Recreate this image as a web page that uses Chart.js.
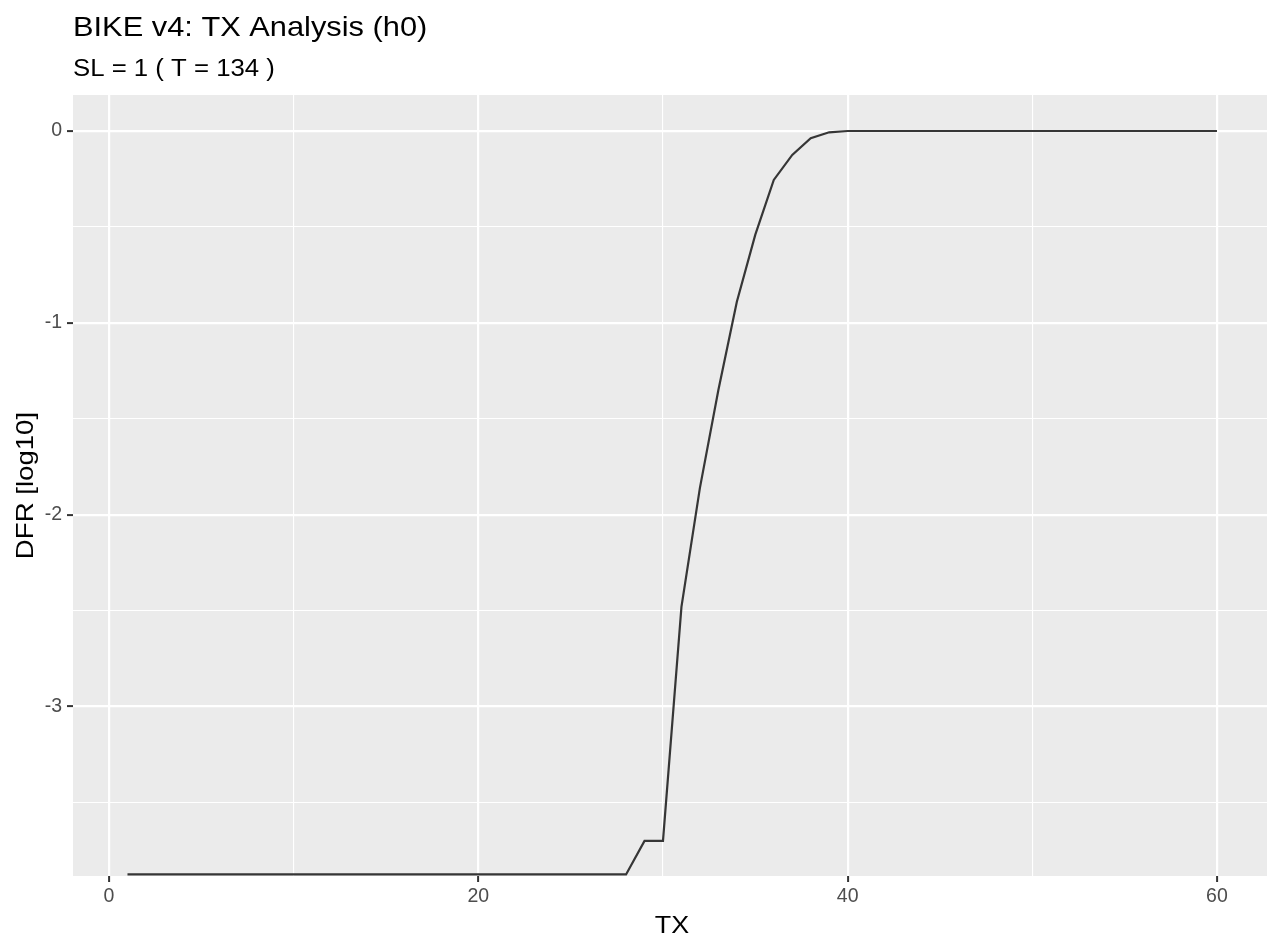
<!DOCTYPE html>
<html>
<head>
<meta charset="utf-8">
<script src="https://cdn.jsdelivr.net/npm/chart.js@4.4.0/dist/chart.umd.min.js"></script>
<style>
  html, body { margin: 0; padding: 0; background: #fff; }
  #wrap { width: 1267px; height: 937px; }
</style>
</head>
<body>
<div id="wrap"><canvas id="dfrChart"></canvas></div>
<script>
// TX values (x axis)
const txValues = [
    1, 2, 3, 4, 5, 6, 7, 8, 9, 10,
    11, 12, 13, 14, 15, 16, 17, 18, 19, 20,
    21, 22, 23, 24, 25, 26, 27, 28, 29, 30,
    31, 32, 33, 34, 35, 36, 37, 38, 39, 40,
    41, 42, 43, 44, 45, 46, 47, 48, 49, 50,
    51, 52, 53, 54, 55, 56, 57, 58, 59, 60
];
// DFR in log10
const dfrLog10 = [
    -3.875, -3.875, -3.875, -3.875, -3.875, -3.875, -3.875, -3.875, -3.875, -3.875,
    -3.875, -3.875, -3.875, -3.875, -3.875, -3.875, -3.875, -3.875, -3.875, -3.875,
    -3.875, -3.875, -3.875, -3.875, -3.875, -3.875, -3.875, -3.875, -3.70, -3.70,
    -2.48, -1.86, -1.35, -0.89, -0.54, -0.255, -0.125, -0.038, -0.007, 0,
    0, 0, 0, 0, 0, 0, 0, 0, 0, 0,
    0, 0, 0, 0, 0, 0, 0, 0, 0, 0
];
const xTicks = [0, 10, 20, 30, 40, 50, 60];
const xLabels = [0, 20, 40, 60];
const yTicks = [-3.5, -3, -2.5, -2, -1.5, -1, -0.5, 0];
const yLabels = [-3, -2, -1, 0];

const titleText = 'BIKE v4: TX Analysis (h0)';
const subtitleText = 'SL = 1 ( T = 134 )';
const xTitle = 'TX';
const yTitle = 'DFR [log10]';

const FONT = '"Liberation Sans", Arial, sans-serif';

// grey panel behind the plot, ggplot style
const panelBg = {
    id: 'panelBg',
    beforeDraw(chart) {
        const { ctx, chartArea: a } = chart;
        ctx.save();
        ctx.fillStyle = '#EBEBEB';
        ctx.fillRect(a.left, a.top, a.right - a.left, a.bottom - a.top);
        ctx.restore();
    }
};

// text drawn a bit wider, the original font runs wider than Liberation Sans
function wideText(ctx, text, x, y, stretch) {
    ctx.save();
    ctx.translate(x, y);
    ctx.scale(stretch, 1);
    ctx.fillText(text, 0, 0);
    ctx.restore();
}

// titles and axis titles
const texts = {
    id: 'texts',
    afterDraw(chart) {
        const { ctx, chartArea: a } = chart;
        ctx.save();
        ctx.fillStyle = '#000';
        ctx.textAlign = 'left';
        ctx.textBaseline = 'alphabetic';
        ctx.font = '28px ' + FONT;
        wideText(ctx, titleText, a.left, 36, 1.10);
        ctx.font = '23px ' + FONT;
        wideText(ctx, subtitleText, a.left, 76, 1.12);

        ctx.textAlign = 'center';
        ctx.font = '24px ' + FONT;
        wideText(ctx, xTitle, (a.left + a.right) / 2 + 2, 933, 1.12);

        ctx.translate(33, (a.top + a.bottom) / 2);
        ctx.rotate(-Math.PI / 2);
        wideText(ctx, yTitle, 0, 0, 1.15);
        ctx.restore();
    }
};

const isIn = (arr, v) => arr.some(t => Math.abs(t - v) < 1e-9);

const ctx = document.getElementById('dfrChart').getContext('2d');
new Chart(ctx, {
    type: 'line',
    data: {
        labels: txValues,
        datasets: [{
            data: txValues.map((x, i) => ({ x: x, y: dfrLog10[i] })),
            borderColor: '#363636',
            borderWidth: 2.2,
            pointRadius: 0,
            tension: 0,
            fill: false
        }]
    },
    options: {
        responsive: true,
        maintainAspectRatio: false,
        animation: false,
        layout: { padding: { top: 95, right: 0, left: 0, bottom: 0 } },
        plugins: {
            legend: { display: false },
            tooltip: { enabled: false }
        },
        scales: {
            x: {
                type: 'linear',
                min: -1.95,
                max: 62.71,
                afterFit(scale) { scale.height = 61; },
                afterBuildTicks(scale) { scale.ticks = xTicks.map(v => ({ value: v })); },
                border: { display: false },
                grid: {
                    color: '#FFFFFF',
                    lineWidth: c => (c.tick && isIn(xLabels, c.tick.value)) ? 2.2 : 1.1,
                    tickColor: c => (c.tick && isIn(xLabels, c.tick.value)) ? '#333333' : 'rgba(0,0,0,0)',
                    tickLength: 6,
                    tickWidth: 2
                },
                ticks: {
                    autoSkip: false,
                    maxRotation: 0,
                    padding: 3,
                    color: '#4D4D4D',
                    font: { family: FONT, size: 19.5 },
                    callback: v => isIn(xLabels, v) ? String(v) : ''
                }
            },
            y: {
                min: -3.883,
                max: 0.1875,
                afterFit(scale) { scale.width = 73; },
                afterBuildTicks(scale) { scale.ticks = yTicks.map(v => ({ value: v })); },
                border: { display: false },
                grid: {
                    color: '#FFFFFF',
                    lineWidth: c => (c.tick && isIn(yLabels, c.tick.value)) ? 2.2 : 1.1,
                    tickColor: c => (c.tick && isIn(yLabels, c.tick.value)) ? '#333333' : 'rgba(0,0,0,0)',
                    tickLength: 6,
                    tickWidth: 2
                },
                ticks: {
                    autoSkip: false,
                    padding: 5,
                    color: '#4D4D4D',
                    font: { family: FONT, size: 19.5 },
                    callback: v => isIn(yLabels, v) ? String(v) : ''
                }
            }
        }
    },
    plugins: [panelBg, texts]
});
</script>
</body>
</html>
